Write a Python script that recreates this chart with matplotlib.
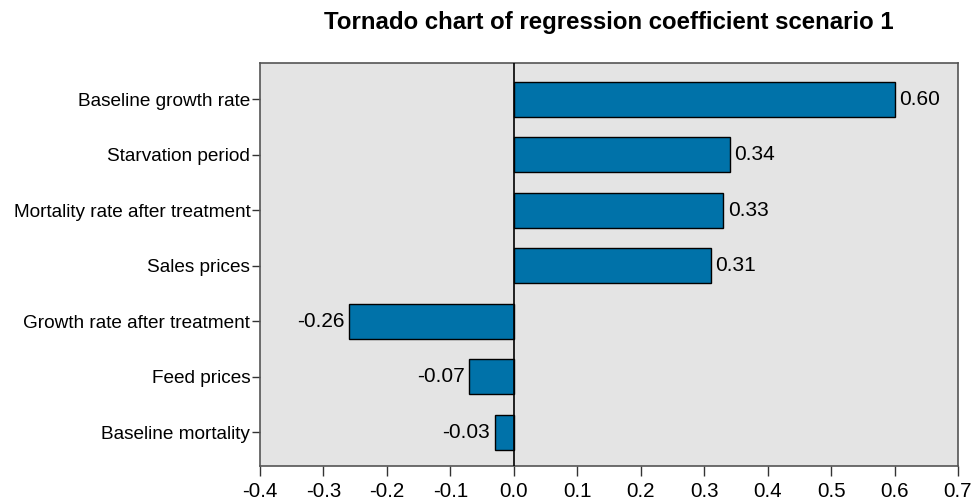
import matplotlib.pyplot as plt

plt.rcParams['font.family'] = ['Liberation Sans', 'DejaVu Sans']

factors = ['Baseline growth rate', 'Starvation period', 'Mortality rate after treatment',
           'Sales prices', 'Growth rate after treatment', 'Feed prices', 'Baseline mortality']
coefs = [0.60, 0.34, 0.33, 0.31, -0.26, -0.07, -0.03]
x_ticks = [-0.4, -0.3, -0.2, -0.1, 0.0, 0.1, 0.2, 0.3, 0.4, 0.5, 0.6, 0.7]

fig = plt.figure(figsize=(9.71, 5.0), dpi=100)
ax = fig.add_axes([260 / 971, 34 / 500, 698 / 971, 403 / 500])
ax.set_facecolor('#e4e4e4')

ypos = list(range(len(factors)))[::-1]
ax.barh(ypos, coefs, height=0.63, color='#0072a9', edgecolor='black', linewidth=1, zorder=2)
ax.axvline(0, color='black', linewidth=1.2, zorder=3)

for y, v in zip(ypos, coefs):
    if v >= 0:
        ax.text(v + 0.007, y, f'{v:.2f}', ha='left', va='center', fontsize=15)
    else:
        ax.text(v - 0.007, y, f'{v:.2f}', ha='right', va='center', fontsize=15)

ax.set_yticks(ypos)
ax.set_yticklabels(factors, fontsize=13.7)
ax.set_xticks(x_ticks)
ax.set_xticklabels([f'{t:.1f}' for t in x_ticks], fontsize=14.8)
ax.set_xlim(-0.4, 0.7)
ax.set_ylim(-0.61, 6.65)
ax.tick_params(axis='x', direction='out', length=7.5, width=1, color='#333333', pad=4)
ax.tick_params(axis='y', direction='out', length=6, width=1, color='#333333', pad=1)
for s in ax.spines.values():
    s.set_color('#555555')
    s.set_linewidth(1.2)

fig.text(609 / 971, 1 - 22 / 500, 'Tornado chart of regression coefficient scenario 1',
         ha='center', va='center', fontsize=17.3, fontweight='bold')

fig.savefig('out.png', dpi=100)
